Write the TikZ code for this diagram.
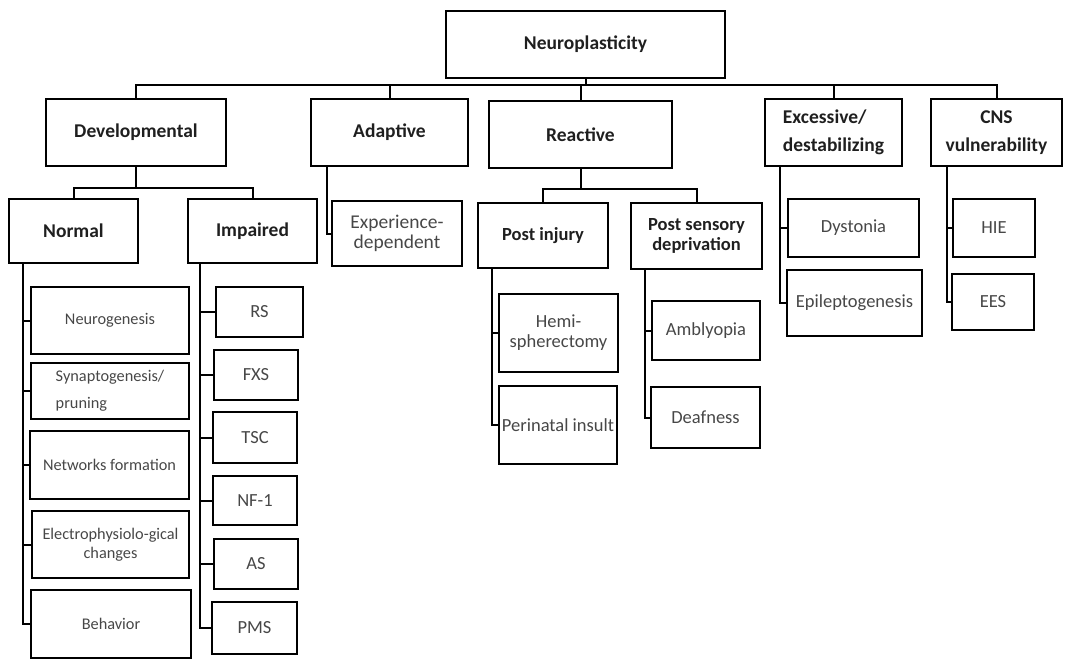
\documentclass[tikz,border=0pt]{standalone}
\usepackage{fontspec}
\setmainfont{Carlito}
\tikzset{
  box/.style={draw=black, line width=2pt, inner sep=1pt, align=center},
  head/.style={box, font=\fontsize{19.5}{28}\selectfont\bfseries, text=black!88},
  sub/.style={box, font=\fontsize{18.5}{20}\selectfont\bfseries, text=black!88},
  leaf/.style={box, font=\fontsize{18.5}{20}\selectfont, text=black!72},
  small/.style={box, font=\fontsize{16.3}{19}\selectfont, text=black!72},
  conn/.style={draw=black, line width=2pt}
}
% box given by its corners: [style] {name} {x1}{y1}{x2}{y2} {text}
\newcommand\bx[7][leaf]{%
  \node[#1, minimum width={#5-#3}, minimum height={#6-#4}] (#2)
    at ({(#3+#5)/2},{(#4+#6)/2}) {#7};}
\begin{document}
\begin{tikzpicture}[x=1pt,y=-1pt]
\useasboundingbox (0,0) rectangle (1065,661);

% top level
\bx[head]{neuro}{446}{11}{725}{78}{Neuroplasticity}
\bx[head]{dev}{46}{99}{226}{166}{Developmental}
\bx[head]{adapt}{311}{99}{468}{166}{Adaptive}
\bx[head]{react}{489}{101}{672}{168}{Reactive}
\bx[head,align=left]{exc}{765}{99}{902}{166}{Excessive/\\destabilizing}
\bx[head]{cns}{931}{99}{1062}{166}{CNS\\vulnerability}

% second level
\bx[head]{normal}{9}{199}{138}{263}{Normal}
\bx[head]{impaired}{188}{199}{317}{263}{Impaired}
\bx[leaf,font=\fontsize{19.5}{20}\selectfont]{exper}{332}{201}{462}{266}{Experience-\\dependent}
\bx[sub]{postinj}{478}{203}{608}{268}{Post injury}
\bx[sub]{postsens}{631}{203}{762}{269}{Post sensory\\deprivation}
\bx{dyst}{788}{199}{919}{257}{Dystonia}
\bx{epi}{787}{270}{922}{336}{Epileptogenesis}
\bx{hie}{953}{199}{1035}{257}{HIE}
\bx{ees}{952}{274}{1034}{330}{EES}

% normal development
\bx[small]{neurog}{31}{287}{189}{354}{Neurogenesis}
\bx[small,align=left]{synap}{31}{363}{189}{419}{Synaptogenesis/\\[8pt]pruning}
\bx[small]{netw}{30}{431}{189}{499}{Networks formation}
\bx[small]{electro}{32}{511}{189}{578}{Electrophysiolo-gical\\changes}
\bx[small]{behav}{31}{590}{191}{658}{Behavior}

% impaired development
\bx{rs}{216}{287}{303}{337}{RS}
\bx{fxs}{214}{350}{298}{400}{FXS}
\bx{tsc}{213}{412}{297}{463}{TSC}
\bx{nf}{213}{476}{297}{525}{NF-1}
\bx{as}{214}{539}{298}{589}{AS}
\bx{pms}{212}{602}{297}{654}{PMS}

% reactive branches
\bx{hemi}{499}{294}{618}{372}{Hemi-\\spherectomy}
\bx{peri}{499}{386}{617}{464}{Perinatal insult}
\bx{ambly}{652}{301}{760}{360}{Amblyopia}
\bx{deaf}{651}{387}{760}{448}{Deafness}

% bus lines
\coordinate (bus0) at (0,85);
\coordinate (bus1) at (0,188);
\coordinate (bus2) at (0,189);
\draw[conn] (neuro.south) -- (neuro.south |- bus0);
\draw[conn] (dev.north) -- (dev.north |- bus0) -- (cns.north |- bus0) -- (cns.north);
\draw[conn] (adapt.north) -- (adapt.north |- bus0);
\draw[conn] (react.north) -- (react.north |- bus0);
\draw[conn] (exc.north) -- (exc.north |- bus0);

\draw[conn] (dev.south) -- (dev.south |- bus1);
\draw[conn] (normal.north) -- (normal.north |- bus1) -- (impaired.north |- bus1) -- (impaired.north);
\draw[conn] (react.south) -- (react.south |- bus2);
\draw[conn] (postinj.north) -- (postinj.north |- bus2) -- (postsens.north |- bus2) -- (postsens.north);

% spines with side ticks
\coordinate (spN) at (23,263);
\draw[conn] (spN) |- (behav.west);
\foreach \n in {neurog,synap,netw,electro}
  \draw[conn] (spN |- \n.west) -- (\n.west);

\coordinate (spI) at (200,263);
\draw[conn] (spI) |- (pms.west);
\foreach \n in {rs,fxs,tsc,nf,as}
  \draw[conn] (spI |- \n.west) -- (\n.west);

\coordinate (spA) at (327,166);
\draw[conn] (spA) |- (exper.west);

\coordinate (spP) at (492,268);
\draw[conn] (spP) |- (peri.west);
\draw[conn] (spP |- hemi.west) -- (hemi.west);

\coordinate (spS) at (645,269);
\draw[conn] (spS) |- (deaf.west);
\draw[conn] (spS |- ambly.west) -- (ambly.west);

\coordinate (spE) at (780,166);
\draw[conn] (spE) |- (epi.west);
\draw[conn] (spE |- dyst.west) -- (dyst.west);

\coordinate (spC) at (947,166);
\draw[conn] (spC) |- (ees.west);
\draw[conn] (spC |- hie.west) -- (hie.west);
\end{tikzpicture}
\end{document}
